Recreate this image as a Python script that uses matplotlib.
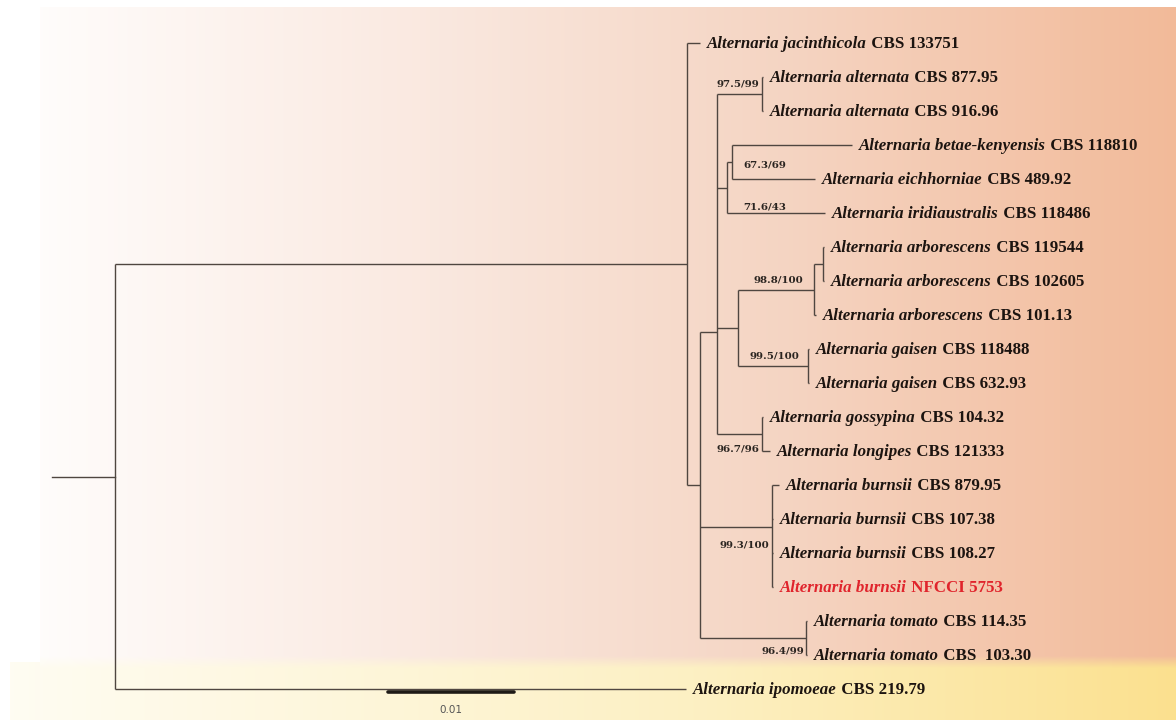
import numpy as np
import matplotlib.pyplot as plt

# tips, top to bottom
tip_species = ['Alternaria jacinthicola', 'Alternaria alternata', 'Alternaria alternata',
               'Alternaria betae-kenyensis', 'Alternaria eichhorniae', 'Alternaria iridiaustralis',
               'Alternaria arborescens', 'Alternaria arborescens', 'Alternaria arborescens',
               'Alternaria gaisen', 'Alternaria gaisen', 'Alternaria gossypina',
               'Alternaria longipes', 'Alternaria burnsii', 'Alternaria burnsii',
               'Alternaria burnsii', 'Alternaria burnsii', 'Alternaria tomato',
               'Alternaria tomato', 'Alternaria ipomoeae']
tip_strain = ['CBS 133751', 'CBS 877.95', 'CBS 916.96', 'CBS 118810', 'CBS 489.92',
              'CBS 118486', 'CBS 119544', 'CBS 102605', 'CBS 101.13', 'CBS 118488',
              'CBS 632.93', 'CBS 104.32', 'CBS 121333', 'CBS 879.95', 'CBS 107.38',
              'CBS 108.27', 'NFCCI 5753', 'CBS 114.35', 'CBS  103.30', 'CBS 219.79']
# distance from root (substitutions/site)
tip_x = [0.04643, 0.05143, 0.05143, 0.05849, 0.05556, 0.05635, 0.05627, 0.05627, 0.05563,
         0.05508, 0.05508, 0.05143, 0.05198, 0.05270, 0.05222, 0.05222, 0.05222, 0.05492,
         0.05492, 0.04532]
tip_parent = ['A', 'alt', 'alt', 'D2', 'D2', 'D', 'arb2', 'arb2', 'arb', 'gai', 'gai',
              'G', 'G', 'bur', 'bur', 'bur', 'bur', 'tom', 'tom', 'root']
highlight = 'NFCCI 5753'

# internal nodes
node_ids = ['root', 'A', 'B', 'C', 'alt', 'D', 'D2', 'E', 'arb', 'arb2', 'gai', 'G', 'bur', 'tom']
node_x = [0.0, 0.04540, 0.04643, 0.04778, 0.05135, 0.04857, 0.04897, 0.04944, 0.05548,
          0.05619, 0.05500, 0.05135, 0.05214, 0.05484]
node_parent = [None, 'root', 'A', 'B', 'C', 'C', 'D', 'C', 'E', 'arb', 'E', 'C', 'B', 'B']
# nodes not drawn at the midpoint of their children (row units)
node_row_read = {'C': 8.5, 'bur': 14.24}

support_node = ['alt', 'D2', 'D', 'arb', 'gai', 'G', 'bur', 'tom']
support_text = ['97.5/99', '67.3/69', '71.6/43', '98.8/100', '99.5/100', '96.7/96',
                '99.3/100', '96.4/99']
scale_len = 0.01

# ---- layout / style ----
W, H = 1176, 720
X0, PXU = 115, 12600        # root pixel and pixels per unit
Y0, ROW = 43, 34
stub = -0.0050
line_c = '#4f4640'
support_off = {'alt': (-2, 7, 'right'), 'D2': (8, -2, 'left'), 'D': (12, -14, 'left'),
               'arb': (-8, 7, 'right'), 'gai': (-6, 7, 'right'), 'G': (-2, -11, 'right'),
               'bur': (-2, -13, 'right'), 'tom': (-1, -9, 'right')}

fig = plt.figure(figsize=(W / 100, H / 100), dpi=100)

# background
img = np.ones((H, W, 3))
xs = np.arange(W)
t = np.clip((xs - 40) / (W - 40), 0, 1)
top_stops = np.array([[1.0, 0.99, 0.985], [0.98, 0.91, 0.875], [0.96, 0.835, 0.765], [0.95, 0.73, 0.60]])
pos = [0, 0.35, 0.65, 1.0]
top = np.stack([np.interp(t, pos, top_stops[:, k]) for k in range(3)], axis=1)
tb = np.clip((xs - 10) / (W - 10), 0, 1)
bot_stops = np.array([[1.0, 0.99, 0.95], [0.99, 0.94, 0.76], [0.985, 0.88, 0.56]])
bot = np.stack([np.interp(tb, [0, 0.6, 1.0], bot_stops[:, k]) for k in range(3)], axis=1)
img[7:662, 40:] = top[40:]
img[662:, 10:] = bot[10:]
# soft seam between the two bands
for j, r in enumerate(range(656, 668)):
    a = (j + 0.5) / 12
    img[r, 40:] = (1 - a) * top[40:] + a * bot[40:]
bg = fig.add_axes([0, 0, 1, 1], zorder=0)
bg.imshow(img, extent=(0, W, H, 0), aspect='auto', interpolation='bilinear')
bg.axis('off')

ax = fig.add_axes([0, 0, 1, 1], zorder=1)
ax.patch.set_visible(False)
ax.axis('off')
ax.set_xlim(-X0 / PXU, (W - X0) / PXU)
ax.set_ylim((H - Y0) / ROW, -Y0 / ROW)

# tree geometry
nx = dict(zip(node_ids, node_x))
children = {n: [] for n in node_ids}
for i, p in enumerate(tip_parent):
    children[p].append(('tip', i))
for n, p in zip(node_ids, node_parent):
    if p:
        children[p].append(('node', n))

ny = {}
def row_of(kind, k):
    if kind == 'tip':
        return float(k)
    if k not in ny:
        ys = [row_of(*c) for c in children[k]]
        ny[k] = node_row_read.get(k, (min(ys) + max(ys)) / 2)
    return ny[k]

row_of('node', 'root')

for n in node_ids:
    ys = [row_of(*c) for c in children[n]]
    ax.plot([nx[n], nx[n]], [min(ys), max(ys)], color=line_c, lw=1.0, solid_capstyle='butt')
    for kind, k in children[n]:
        cx = tip_x[k] if kind == 'tip' else nx[k]
        ax.plot([nx[n], cx], [row_of(kind, k)] * 2, color=line_c, lw=1.0, solid_capstyle='butt')
ax.plot([stub, 0], [ny['root']] * 2, color=line_c, lw=1.0)

# tip labels
fs = 12.2
for i in range(len(tip_species)):
    c = '#e0242c' if tip_strain[i] == highlight else '#1c1410'
    t1 = ax.annotate(tip_species[i], xy=(tip_x[i], i), xytext=(5.0, -1.0), textcoords='offset points',
                     ha='left', va='center', family='Liberation Serif', fontstyle='italic',
                     fontweight='bold', size=fs, color=c)
    ax.annotate(' ' + tip_strain[i], xy=(1, 0), xycoords=t1, ha='left', va='bottom',
                family='Liberation Serif', fontweight='bold', size=fs, color=c)

# support values
for n, s in zip(support_node, support_text):
    dx, dy, ha = support_off[n]
    ax.annotate(s, xy=(nx[n], ny[n]), xytext=(dx, dy), textcoords='offset points', ha=ha,
                va='center', family='DejaVu Serif', fontweight='bold', size=7.4, color='#2a2420')

# scale bar
sb0 = (388 - X0) / PXU
ax.plot([sb0, sb0 + scale_len], [19.1, 19.1], color='#1e1a16', lw=2.6, solid_capstyle='round')
ax.text(sb0 + scale_len / 2, 19.62, f'{scale_len:g}', ha='center', va='center',
        family='DejaVu Sans', size=7.5, color='#555555')

fig.savefig('out.png', dpi=100)
